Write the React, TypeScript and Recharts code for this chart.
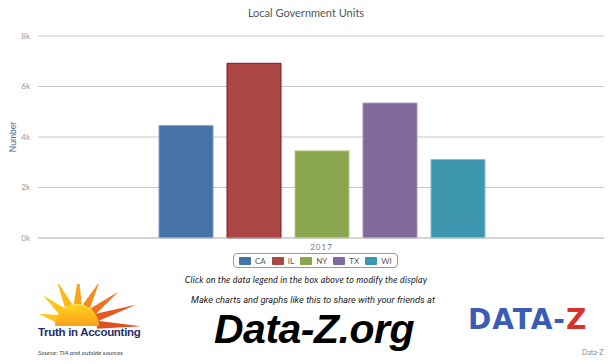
import { Bar, BarChart, CartesianGrid, XAxis, YAxis, Label } from "recharts";

const years = ["2017"];
const states = ["CA", "IL", "NY", "TX", "WI"];
const units = [4450, 6920, 3450, 5345, 3110];
const colors = ["#4572A7", "#AA4643", "#89A54E", "#80699B", "#3D96AE"];
const borders = ["#7fa0c8", "#7a1f1f", "#b5cc8a", "#a896bd", "#7cc0d2"];
const yTicks = [0, 2000, 4000, 6000, 8000];

const data = years.map((year) => {
    const row: Record<string, string | number> = { year };
    states.forEach((s, i) => {
        row[s] = units[i];
    });
    return row;
});

function SunLogo() {
    // decorative logo, not chart data
    const rays = [
        { a: -165, len: 18, c: "#ffc81a" },
        { a: -140, len: 22, c: "#ffc21a" },
        { a: -115, len: 26, c: "#ffb81a" },
        { a: -88, len: 28, c: "#f9a51c" },
        { a: -62, len: 26, c: "#f58a1f" },
        { a: -38, len: 30, c: "#f0701f" },
        { a: -18, len: 40, c: "#e85a1f" },
        { a: 2, len: 42, c: "#e24f1f" },
    ];
    const cx = 41;
    const cy = 40;
    const r = 22;
    return (
        <svg width={110} height={48} style={{ position: "absolute", left: 36, top: 284 }}>
            <defs>
                <linearGradient id="sun" x1="0" y1="0" x2="0" y2="1">
                    <stop offset="0%" stopColor="#ffd51a" />
                    <stop offset="100%" stopColor="#f7a01c" />
                </linearGradient>
            </defs>
            {rays.map((ray, i) => {
                const rad = (ray.a * Math.PI) / 180;
                const x1 = cx + Math.cos(rad) * (r - 2);
                const y1 = cy + Math.sin(rad) * (r - 2);
                const x2 = cx + Math.cos(rad) * (r + ray.len);
                const y2 = cy + Math.sin(rad) * (r + ray.len);
                const nx = -Math.sin(rad) * 4;
                const ny = Math.cos(rad) * 4;
                return (
                    <polygon
                        key={i}
                        points={`${x1 + nx},${y1 + ny} ${x1 - nx},${y1 - ny} ${x2},${y2}`}
                        fill={ray.c}
                    />
                );
            })}
            <path d={`M ${cx - r} ${cy + 2} A ${r} ${r} 0 0 1 ${cx + r} ${cy + 2} Z`} fill="url(#sun)" />
        </svg>
    );
}

export default function App() {
    return (
        <div
            style={{
                position: "relative",
                width: 612,
                height: 364,
                background: "#ffffff",
                margin: -8,
                fontFamily: "Lato, 'Open Sans', sans-serif",
                overflow: "hidden",
            }}
        >
            <div
                style={{
                    position: "absolute",
                    top: 6,
                    left: 0,
                    width: 612,
                    textAlign: "center",
                    fontSize: 11,
                    color: "#555",
                }}
            >
                Local Government Units
            </div>

            <div style={{ position: "absolute", left: 0, top: 0 }}>
                <BarChart
                    width={612}
                    height={252}
                    data={data}
                    margin={{ top: 36, right: 7, bottom: 2, left: 0 }}
                    barCategoryGap={120}
                    barGap={14}
                >
                    <CartesianGrid vertical={false} stroke="#c8c8c8" />
                    <XAxis
                        dataKey="year"
                        height={12}
                        tickLine={false}
                        axisLine={{ stroke: "#c8c8c8" }}
                        tick={{ fontSize: 8, fill: "#777", letterSpacing: 1 }}
                        tickMargin={0}
                    />
                    <YAxis
                        width={38}
                        domain={[0, 8000]}
                        ticks={yTicks}
                        tickLine={false}
                        axisLine={false}
                        tickFormatter={(v: number) => `${v / 1000}k`}
                        tick={{ fontSize: 8, fill: "#999" }}
                    >
                        <Label
                            value="Number"
                            angle={-90}
                            position="insideLeft"
                            offset={13}
                            style={{ textAnchor: "middle", fill: "#4d6b95", fontSize: 8.5 }}
                        />
                    </YAxis>
                    {states.map((s, i) => (
                        <Bar
                            key={s}
                            dataKey={s}
                            barSize={54}
                            fill={colors[i]}
                            stroke={borders[i]}
                            strokeWidth={1}
                            isAnimationActive={false}
                        />
                    ))}
                </BarChart>
            </div>

            <div
                style={{
                    position: "absolute",
                    left: 233,
                    top: 253,
                    height: 15,
                    padding: "0 5px",
                    border: "1px solid #999",
                    borderRadius: 4,
                    display: "flex",
                    alignItems: "center",
                    gap: 6,
                    fontSize: 8,
                    color: "#555",
                    boxSizing: "border-box",
                }}
            >
                {states.map((s, i) => (
                    <div key={s} style={{ display: "flex", alignItems: "center", gap: 4 }}>
                        <div style={{ width: 12, height: 8, background: colors[i], borderRadius: 1 }} />
                        <span>{s}</span>
                    </div>
                ))}
            </div>

            <div
                style={{
                    position: "absolute",
                    top: 274,
                    left: 0,
                    width: 612,
                    textAlign: "center",
                    fontSize: 9,
                    fontStyle: "italic",
                    color: "#222",
                    letterSpacing: 0.15,
                }}
            >
                Click on the data legend in the box above to modify the display
            </div>
            <div
                style={{
                    position: "absolute",
                    top: 295,
                    left: 7,
                    width: 612,
                    textAlign: "center",
                    fontSize: 9.3,
                    lineHeight: "10px",
                    fontStyle: "italic",
                    color: "#222",
                    fontFamily: "Roboto, sans-serif",
                }}
            >
                Make charts and graphs like this to share with your friends at
            </div>
            <div
                style={{
                    position: "absolute",
                    top: 309,
                    left: 8,
                    width: 612,
                    textAlign: "center",
                    fontSize: 41,
                    lineHeight: "41px",
                    fontWeight: 700,
                    fontStyle: "italic",
                    color: "#000",
                    fontFamily: "'Liberation Sans', Arial, sans-serif",
                    letterSpacing: -0.5,
                }}
            >
                Data-Z.org
            </div>

            <SunLogo />
            <div
                style={{
                    position: "absolute",
                    left: 38,
                    top: 326,
                    fontSize: 11.5,
                    fontWeight: 700,
                    color: "#1f2f6b",
                    fontFamily: "'Liberation Sans', Arial, sans-serif",
                    letterSpacing: -0.3,
                }}
            >
                Truth in Accounting
            </div>
            <div
                style={{
                    position: "absolute",
                    left: 38,
                    top: 349,
                    fontSize: 6.5,
                    fontStyle: "italic",
                    color: "#444",
                }}
            >
                Source: TIA and outside sources
            </div>

            <div
                style={{
                    position: "absolute",
                    left: 468,
                    top: 303,
                    fontSize: 28,
                    fontWeight: 900,
                    fontFamily: "'DejaVu Sans', sans-serif",
                    letterSpacing: 1,
                    color: "#3a5cb5",
                }}
            >
                DATA-<span style={{ color: "#d8322a" }}>Z</span>
            </div>
            <div
                style={{
                    position: "absolute",
                    left: 582,
                    top: 348,
                    fontSize: 7,
                    color: "#888",
                }}
            >
                Data-Z
            </div>
        </div>
    );
}
